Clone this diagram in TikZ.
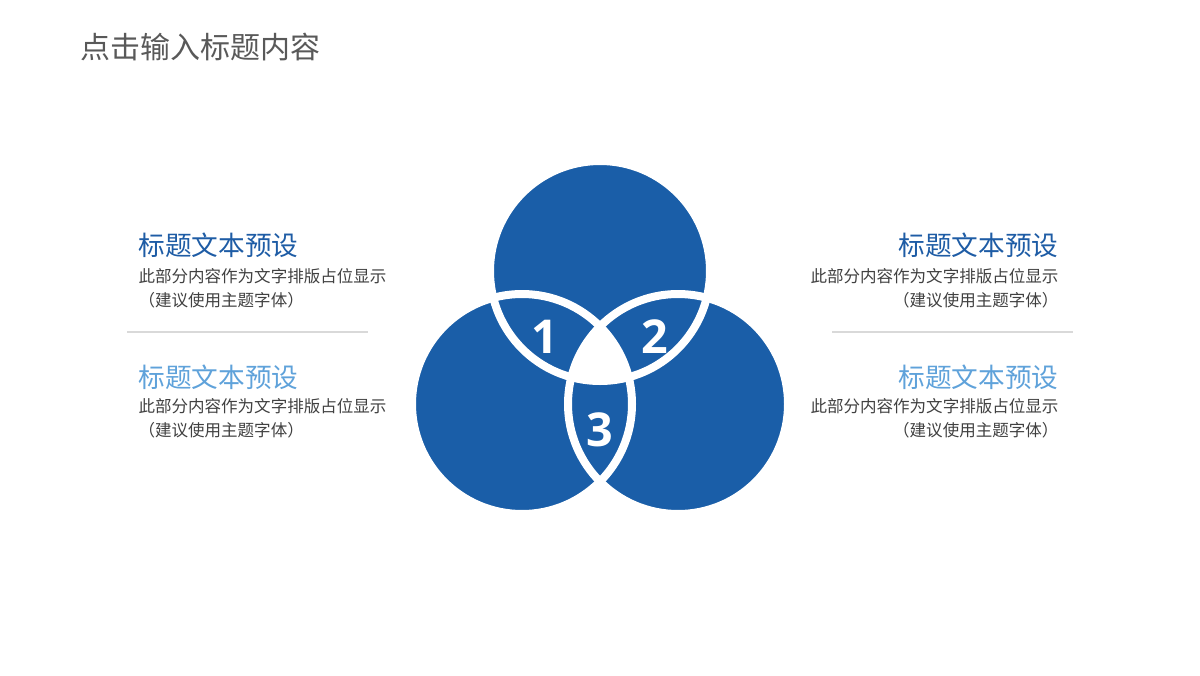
\documentclass[tikz,border=0pt]{standalone}
\usepackage{fontspec}
\setmainfont{Open Sans}
\newfontfamily\cjk{Noto Sans CJK SC}

\definecolor{vennblue}{RGB}{26,94,168}
\definecolor{headdark}{RGB}{30,92,165}
\definecolor{headlight}{RGB}{95,162,218}
\definecolor{bodygray}{RGB}{64,64,64}
\definecolor{titlegray}{RGB}{89,89,89}
\definecolor{rulegray}{RGB}{217,217,217}

\tikzset{every picture/.style={line width=0.75pt}}
\tikzset{
  vennfill/.style={fill=vennblue},
  vennedge/.style={draw=white,line width=6},
  vennnum/.style={text=white,inner sep=0.75pt,font=\fontsize{35}{40}\selectfont\bfseries},
  headtext/.style={inner sep=0.75pt,font=\cjk\fontsize{20}{24}\selectfont},
  bodytext/.style={inner sep=0.75pt,text=bodygray,font=\cjk\fontsize{12.4}{15}\selectfont},
  sepline/.style={draw=rulegray,line width=1.5}
}

\begin{document}
\begin{tikzpicture}[x=0.75pt,y=0.75pt,yscale=-1,xscale=1]
\useasboundingbox (0,0) rectangle (1200,675);

%Circle centres
\coordinate (cT) at (600,271);
\coordinate (cL) at (522,404);
\coordinate (cR) at (678,404);

%Shape: Circle
\fill [vennfill] (cT) circle (110);
%Shape: Circle
\fill [vennfill] (cL) circle (110);
%Shape: Circle
\fill [vennfill] (cR) circle (110);
%Shape: centre region
\begin{scope}
\clip (cT) circle (110);
\clip (cL) circle (110);
\fill [white] (cR) circle (110);
\end{scope}
%Shape: Circle edges
\draw [vennedge] (cT) circle (110);
\draw [vennedge] (cL) circle (110);
\draw [vennedge] (cR) circle (110);

% Text Node
\draw (545,337) node [vennnum] (n1) {1};
% Text Node
\draw (655,337) node [vennnum] (n2) {2};
% Text Node
\draw (600,430) node [vennnum] (n3) {3};

% Text Node
\draw (79,47) node [anchor=west] [inner sep=0.75pt] [text=titlegray,font=\cjk\fontsize{22.5}{27}\selectfont] (title) {点击输入标题内容};

% Text Node
\draw (137,245) node [anchor=west] [headtext,text=headdark] (headLA) {标题文本预设};
% Text Node
\draw (137,276) node [anchor=west] [bodytext] (bodyLA) {此部分内容作为文字排版占位显示};
% Text Node
\draw (137,300) node [anchor=west] [bodytext] (subLA) {（建议使用主题字体）};
% Text Node
\draw (137,377) node [anchor=west] [headtext,text=headlight] (headLB) {标题文本预设};
% Text Node
\draw (137,406) node [anchor=west] [bodytext] (bodyLB) {此部分内容作为文字排版占位显示};
% Text Node
\draw (137,430) node [anchor=west] [bodytext] (subLB) {（建议使用主题字体）};

% Text Node
\draw (1060,245) node [anchor=east] [headtext,text=headdark] (headRA) {标题文本预设};
% Text Node
\draw (1060,276) node [anchor=east] [bodytext] (bodyRA) {此部分内容作为文字排版占位显示};
% Text Node
\draw (1060,300) node [anchor=east] [bodytext] (subRA) {（建议使用主题字体）};
% Text Node
\draw (1060,377) node [anchor=east] [headtext,text=headlight] (headRB) {标题文本预设};
% Text Node
\draw (1060,406) node [anchor=east] [bodytext] (bodyRB) {此部分内容作为文字排版占位显示};
% Text Node
\draw (1060,430) node [anchor=east] [bodytext] (subRB) {（建议使用主题字体）};

%Straight Lines
\draw [sepline] (127,332) -- (368,332) ;
%Straight Lines
\draw [sepline] (832,332) -- (1073,332) ;

\end{tikzpicture}
\end{document}
